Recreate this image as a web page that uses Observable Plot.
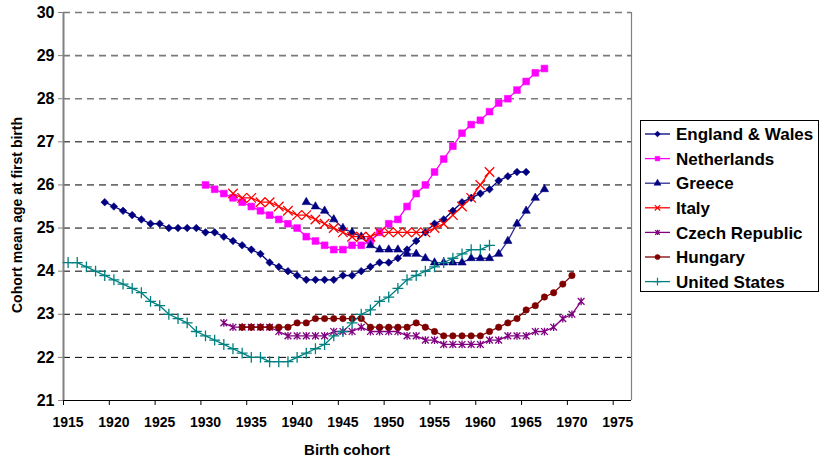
<!DOCTYPE html>
<html>
<head>
<meta charset="utf-8">
<script src="https://cdn.jsdelivr.net/npm/d3@7"></script>
<script src="https://cdn.jsdelivr.net/npm/@observablehq/plot@0.6"></script>
<style>
  html, body { margin: 0; padding: 0; background: #ffffff; }
  #chart { width: 820px; height: 458px; }
  svg { font-family: "Liberation Sans", Arial, sans-serif; }
</style>
</head>
<body>
<div id="chart"></div>
<script>
// ---- Data ----
const seriesNames = ["England & Wales", "Netherlands", "Greece", "Italy", "Czech Republic", "Hungary", "United States"];
const firstCohort = [1919, 1930, 1941, 1933, 1932, 1934, 1915];

const englandWales = [25.6,25.5,25.4,25.3,25.2,25.1,25.1,25.0,25.0,25.0,25.0,24.9,24.9,24.8,24.7,24.6,24.5,24.4,24.2,24.1,24.0,23.9,23.8,23.8,23.8,23.8,23.9,23.9,24.0,24.1,24.2,24.2,24.3,24.5,24.7,24.9,25.1,25.2,25.4,25.6,25.7,25.8,25.9,26.1,26.2,26.3,26.3];
const netherlands = [26.0,25.9,25.8,25.7,25.6,25.5,25.4,25.3,25.2,25.1,25.0,24.8,24.7,24.6,24.5,24.5,24.6,24.6,24.7,24.9,25.1,25.2,25.5,25.8,26.0,26.3,26.6,26.9,27.2,27.4,27.5,27.7,27.9,28.0,28.2,28.4,28.6,28.7];
const greece = [25.6,25.5,25.4,25.2,25.0,24.9,24.8,24.6,24.5,24.5,24.5,24.4,24.4,24.3,24.2,24.2,24.2,24.2,24.3,24.3,24.3,24.4,24.7,25.1,25.4,25.7,25.9];
const italy = [25.8,25.7,25.7,25.6,25.6,25.5,25.4,25.3,25.3,25.2,25.1,25.0,24.9,24.8,24.8,24.8,24.9,24.9,24.9,24.9,24.9,24.9,25.0,25.1,25.3,25.5,25.7,26.0,26.3];
const czechRepublic = [22.8,22.7,22.7,22.7,22.7,22.7,22.6,22.5,22.5,22.5,22.5,22.5,22.6,22.6,22.6,22.7,22.6,22.6,22.6,22.6,22.5,22.5,22.4,22.4,22.3,22.3,22.3,22.3,22.3,22.4,22.4,22.5,22.5,22.5,22.6,22.6,22.7,22.9,23.0,23.3];
const hungary = [22.7,22.7,22.7,22.7,22.7,22.7,22.8,22.8,22.9,22.9,22.9,22.9,22.9,22.9,22.7,22.7,22.7,22.7,22.7,22.8,22.7,22.6,22.5,22.5,22.5,22.5,22.5,22.6,22.7,22.8,22.9,23.1,23.2,23.4,23.5,23.7,23.9];
const unitedStates = [24.2,24.2,24.1,24.0,23.9,23.8,23.7,23.6,23.5,23.3,23.2,23.0,22.9,22.8,22.6,22.5,22.4,22.3,22.2,22.1,22.0,22.0,21.9,21.9,21.9,22.0,22.1,22.2,22.3,22.5,22.6,22.8,23.0,23.1,23.3,23.4,23.6,23.8,23.9,24.0,24.1,24.2,24.3,24.4,24.5,24.5,24.6];

const xTickLabels = [1915,1920,1925,1930,1935,1940,1945,1950,1955,1960,1965,1970,1975];
const yTickLabels = [21,22,23,24,25,26,27,28,29,30];

// ---- Styles ----
const lineColors   = ["#000080", "#ff00ff", "#2b2b94", "#ff0000", "#800080", "#800000", "#008080"];
const markerColors = ["#000080", "#ff00ff", "#000080", "#ff0000", "#800080", "#800000", "#008080"];

// Excel-like "star" marker: an X with a vertical bar
const starSymbol = {
  draw(ctx, size) {
    const r = Math.sqrt(size) / 2;
    ctx.moveTo(-r, -r); ctx.lineTo(r, r);
    ctx.moveTo(-r, r); ctx.lineTo(r, -r);
    ctx.moveTo(0, -r * 1.15); ctx.lineTo(0, r * 1.15);
  }
};
const markerSpecs = [
  {symbol: "diamond2", r: 3.4, filled: true},
  {symbol: "square",   r: 3.8, filled: true},
  {symbol: "triangle", r: 3.1, filled: true},
  {symbol: "times",    r: 4.4, filled: false},
  {symbol: starSymbol, r: 3.8, filled: false},
  {symbol: "circle",   r: 3.2, filled: true},
  {symbol: "plus",     r: 3.6, filled: false}
];

const valueArrays = [englandWales, netherlands, greece, italy, czechRepublic, hungary, unitedStates];
const rows = [];
valueArrays.forEach((vals, i) => {
  vals.forEach((v, j) => rows.push({series: seriesNames[i], cohort: firstCohort[i] + j, age: v, idx: i}));
});

// Category boundaries (tick marks sit between cohorts, as in the original)
const xMin = xTickLabels[0] - 0.5;
const xMax = xTickLabels[xTickLabels.length - 1] + 1.5;
const boundaries = d3.range(xMin, xTickLabels[xTickLabels.length - 1], 5);

const marks = [];
// grid
marks.push(Plot.ruleY(yTickLabels.filter(d => d > 21), {
  stroke: d => d >= 28 ? "#7a7a7a" : "#000000",
  strokeWidth: d => d >= 28 ? 1.6 : 1,
  strokeDasharray: "7,5"
}));
// frame lines
marks.push(Plot.ruleX([xMax], {stroke: "#808080", strokeWidth: 1.2}));
marks.push(Plot.ruleX([xMin], {stroke: "#808080", strokeWidth: 2}));
marks.push(Plot.ruleY([21], {stroke: "#000000", strokeWidth: 1}));
// axes
marks.push(Plot.axisY({ticks: yTickLabels, tickSize: 5, tickPadding: 4, stroke: "#808080", fill: "#000", fontSize: 16, fontWeight: "bold", label: null, tickFormat: d => String(d)}));
marks.push(Plot.axisX({ticks: boundaries, tickSize: 5, stroke: "#000", fill: "none", label: null}));
marks.push(Plot.axisX({ticks: xTickLabels, tickSize: 0, tickPadding: 17, fill: "#000", fontSize: 14, fontWeight: "bold", label: null, tickFormat: d => String(d)}));
// lines
seriesNames.forEach((name, i) => {
  marks.push(Plot.line(rows.filter(r => r.idx === i), {x: "cohort", y: "age", stroke: lineColors[i], strokeWidth: 1.3}));
});
// markers
seriesNames.forEach((name, i) => {
  const s = markerSpecs[i];
  marks.push(Plot.dot(rows.filter(r => r.idx === i), {
    x: "cohort", y: "age", symbol: () => s.symbol, r: s.r,
    fill: s.filled ? markerColors[i] : "none",
    stroke: markerColors[i],
    strokeWidth: s.filled ? 0.6 : 1.3
  }));
});

const chart = Plot.plot({
  width: 820,
  height: 458,
  marginLeft: 63,
  marginRight: 189,
  marginTop: 12,
  marginBottom: 58,
  x: {domain: [xMin, xMax]},
  y: {domain: [21, 30]},
  symbol: {type: "identity"},
  style: {background: "#ffffff", fontFamily: "'Liberation Sans', Arial, sans-serif", color: "#000", overflow: "visible"},
  marks
});
document.getElementById("chart").appendChild(chart);

// ---- Axis titles and legend ----
const svg = d3.select(chart);
svg.append("text")
  .attr("transform", "translate(22,215) rotate(-90)")
  .attr("text-anchor", "middle")
  .attr("font-size", 14).attr("font-weight", "bold")
  .attr("fill", "#000")
  .text("Cohort mean age at first birth");
svg.append("text")
  .attr("x", 347).attr("y", 455)
  .attr("text-anchor", "middle")
  .attr("font-size", 15).attr("font-weight", "bold")
  .attr("fill", "#000")
  .text("Birth cohort");

const lg = svg.append("g").attr("text-anchor", "start");
lg.append("rect").attr("x", 640.5).attr("y", 120.5).attr("width", 178).attr("height", 171)
  .attr("fill", "#fff").attr("stroke", "#000").attr("stroke-width", 1);
const d3Sym = {"diamond2": d3.symbolDiamond2, "square": d3.symbolSquare, "triangle": d3.symbolTriangle,
               "times": d3.symbolTimes, "circle": d3.symbolCircle, "plus": d3.symbolPlus};
seriesNames.forEach((name, i) => {
  const y = 134 + i * 24.6;
  const s = markerSpecs[i];
  lg.append("line").attr("x1", 645).attr("x2", 670).attr("y1", y).attr("y2", y)
    .attr("stroke", lineColors[i]).attr("stroke-width", 1.3);
  const type = typeof s.symbol === "string" ? d3Sym[s.symbol] : s.symbol;
  lg.append("path")
    .attr("d", d3.symbol(type, Math.PI * 2.6 * 2.6)())
    .attr("transform", `translate(657.5,${y})`)
    .attr("fill", s.filled ? markerColors[i] : "none")
    .attr("stroke", markerColors[i])
    .attr("stroke-width", s.filled ? 0.5 : 1.2);
  lg.append("text").attr("x", 676).attr("y", y).attr("dy", "0.36em")
    .attr("text-anchor", "start")
    .attr("font-size", 17).attr("font-weight", "bold").attr("fill", "#000")
    .text(name);
});
</script>
</body>
</html>
